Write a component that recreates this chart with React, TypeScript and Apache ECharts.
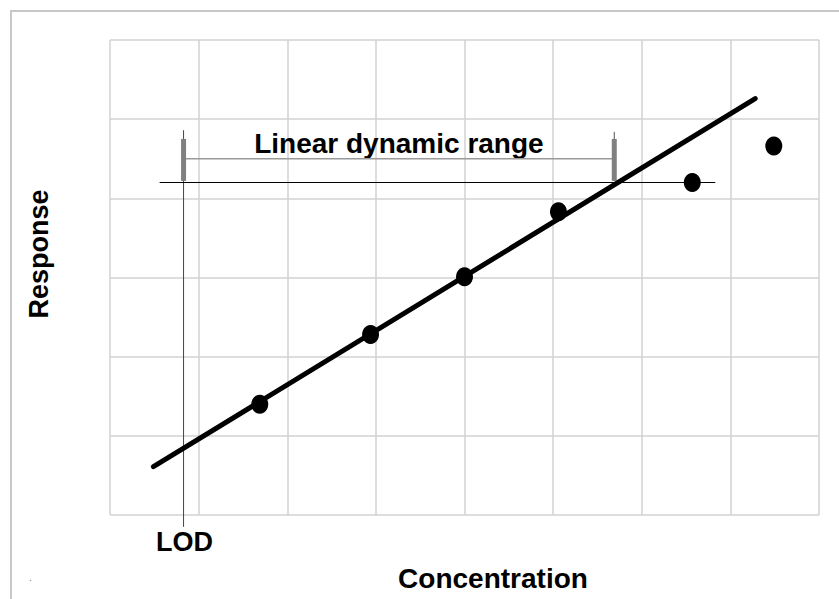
import { useEffect, useRef } from "react";
import * as echarts from "echarts";

// Calibration points (concentration vs detector response)
const concentration = [1.69, 2.94, 4.0, 5.06, 6.57, 7.49];
const response = [1.4, 2.28, 3.01, 3.83, 4.2, 4.66];

// Ends of the fitted straight line
const fitX = [0.49, 7.28];
const fitY = [0.61, 5.26];

// Limit of detection and the upper end of the linear range
const lod = 0.83;
const ldrEnd = 5.69;
const lodLineY = [-0.15, 4.86];
const capY = [4.22, 4.75];
const ldrEndLineY = [4.22, 4.84];
const bracketY = 4.5;
const saturationY = 4.2;
const saturationX = [0.56, 6.83];

// Grid extent
const xMax = 8;
const yMax = 6;

// Texts
const xTitle = "Concentration";
const yTitle = "Response";
const lodText = "LOD";
const rangeText = "Linear dynamic range";

const FONT = "'Liberation Sans', Arial, Helvetica, sans-serif";
const GRID = "#d2d2d2";

function seg(a: number[], b: number[]) {
  return [a, b];
}

export default function App() {
  const ref = useRef<HTMLDivElement>(null);

  useEffect(() => {
    document.body.style.margin = "0";
    if (!ref.current) return;
    const chart = echarts.init(ref.current, undefined, { renderer: "svg" });

    const lineSeries = (data: number[][], color: string, width: number, z: number, cap: any = "butt") => ({
      type: "line",
      data,
      symbol: "none",
      clip: false,
      silent: true,
      z,
      lineStyle: { color, width, cap },
    });

    chart.setOption({
      animation: false,
      backgroundColor: "#ffffff",
      grid: { left: 110, top: 40, right: 20, bottom: 84, containLabel: false },
      xAxis: {
        type: "value",
        min: 0,
        max: xMax,
        interval: 1,
        axisLine: { show: false },
        axisTick: { show: false },
        axisLabel: { show: false },
        splitLine: { show: true, lineStyle: { color: GRID, width: 1.5 } },
      },
      yAxis: {
        type: "value",
        min: 0,
        max: yMax,
        interval: 1,
        axisLine: { show: false },
        axisTick: { show: false },
        axisLabel: { show: false },
        splitLine: { show: true, lineStyle: { color: GRID, width: 1.5 } },
      },
      series: [
        lineSeries(seg([lod, lodLineY[0]], [lod, lodLineY[1]]), "#444444", 1, 2),
        lineSeries(seg([lod, bracketY], [ldrEnd, bracketY]), "#9a9a9a", 1.5, 2),
        lineSeries(seg([ldrEnd, ldrEndLineY[0]], [ldrEnd, ldrEndLineY[1]]), "#555555", 1, 2),
        lineSeries(seg([lod, capY[0]], [lod, capY[1]]), "#808080", 5, 3),
        lineSeries(seg([ldrEnd, capY[0]], [ldrEnd, capY[1]]), "#808080", 5, 3),
        lineSeries(seg([saturationX[0], saturationY], [saturationX[1], saturationY]), "#000000", 1.2, 3),
        lineSeries(seg([fitX[0], fitY[0]], [fitX[1], fitY[1]]), "#000000", 5, 4, "round"),
        {
          type: "scatter",
          data: concentration.map((c, i) => [c, response[i]]),
          symbol: "circle",
          symbolSize: [17, 19],
          itemStyle: { color: "#000000", opacity: 1 },
          z: 5,
          silent: true,
        },
      ],
    });

    // Annotation texts anchored to data coordinates
    const lodPx = chart.convertToPixel({ gridIndex: 0 }, [lod, lodLineY[0]]) as number[];
    const brA = chart.convertToPixel({ gridIndex: 0 }, [lod, bracketY]) as number[];
    const brB = chart.convertToPixel({ gridIndex: 0 }, [ldrEnd, bracketY]) as number[];

    const textStyle = (text: string, size: number) => ({
      text,
      font: `bold ${size}px ${FONT}`,
      fill: "#000",
      align: "center",
      verticalAlign: "middle",
    });

    chart.setOption({
      graphic: [
        {
          type: "rect",
          shape: { x: 11, y: 11, width: 900, height: 700 },
          style: { fill: "none", stroke: "#c8c8c8", lineWidth: 2 },
          silent: true,
          z: 0,
        },
        {
          type: "circle",
          shape: { cx: 30.5, cy: 580.5, r: 0.7 },
          style: { fill: "#9a9a9a" },
          silent: true,
        },
        {
          type: "text",
          x: lodPx[0] + 1,
          y: lodPx[1] + 15.5,
          style: textStyle(lodText, 27),
          silent: true,
        },
        {
          type: "text",
          x: (brA[0] + brB[0]) / 2,
          y: brA[1] - 15.5,
          style: textStyle(rangeText, 28),
          silent: true,
        },
        {
          type: "text",
          x: 493,
          y: 578,
          style: textStyle(xTitle, 28),
          silent: true,
        },
        {
          type: "text",
          x: 38.5,
          y: 254,
          rotation: Math.PI / 2,
          style: textStyle(yTitle, 27),
          silent: true,
        },
      ],
    });

    return () => chart.dispose();
  }, []);

  return <div ref={ref} style={{ width: 839, height: 599 }} />;
}
